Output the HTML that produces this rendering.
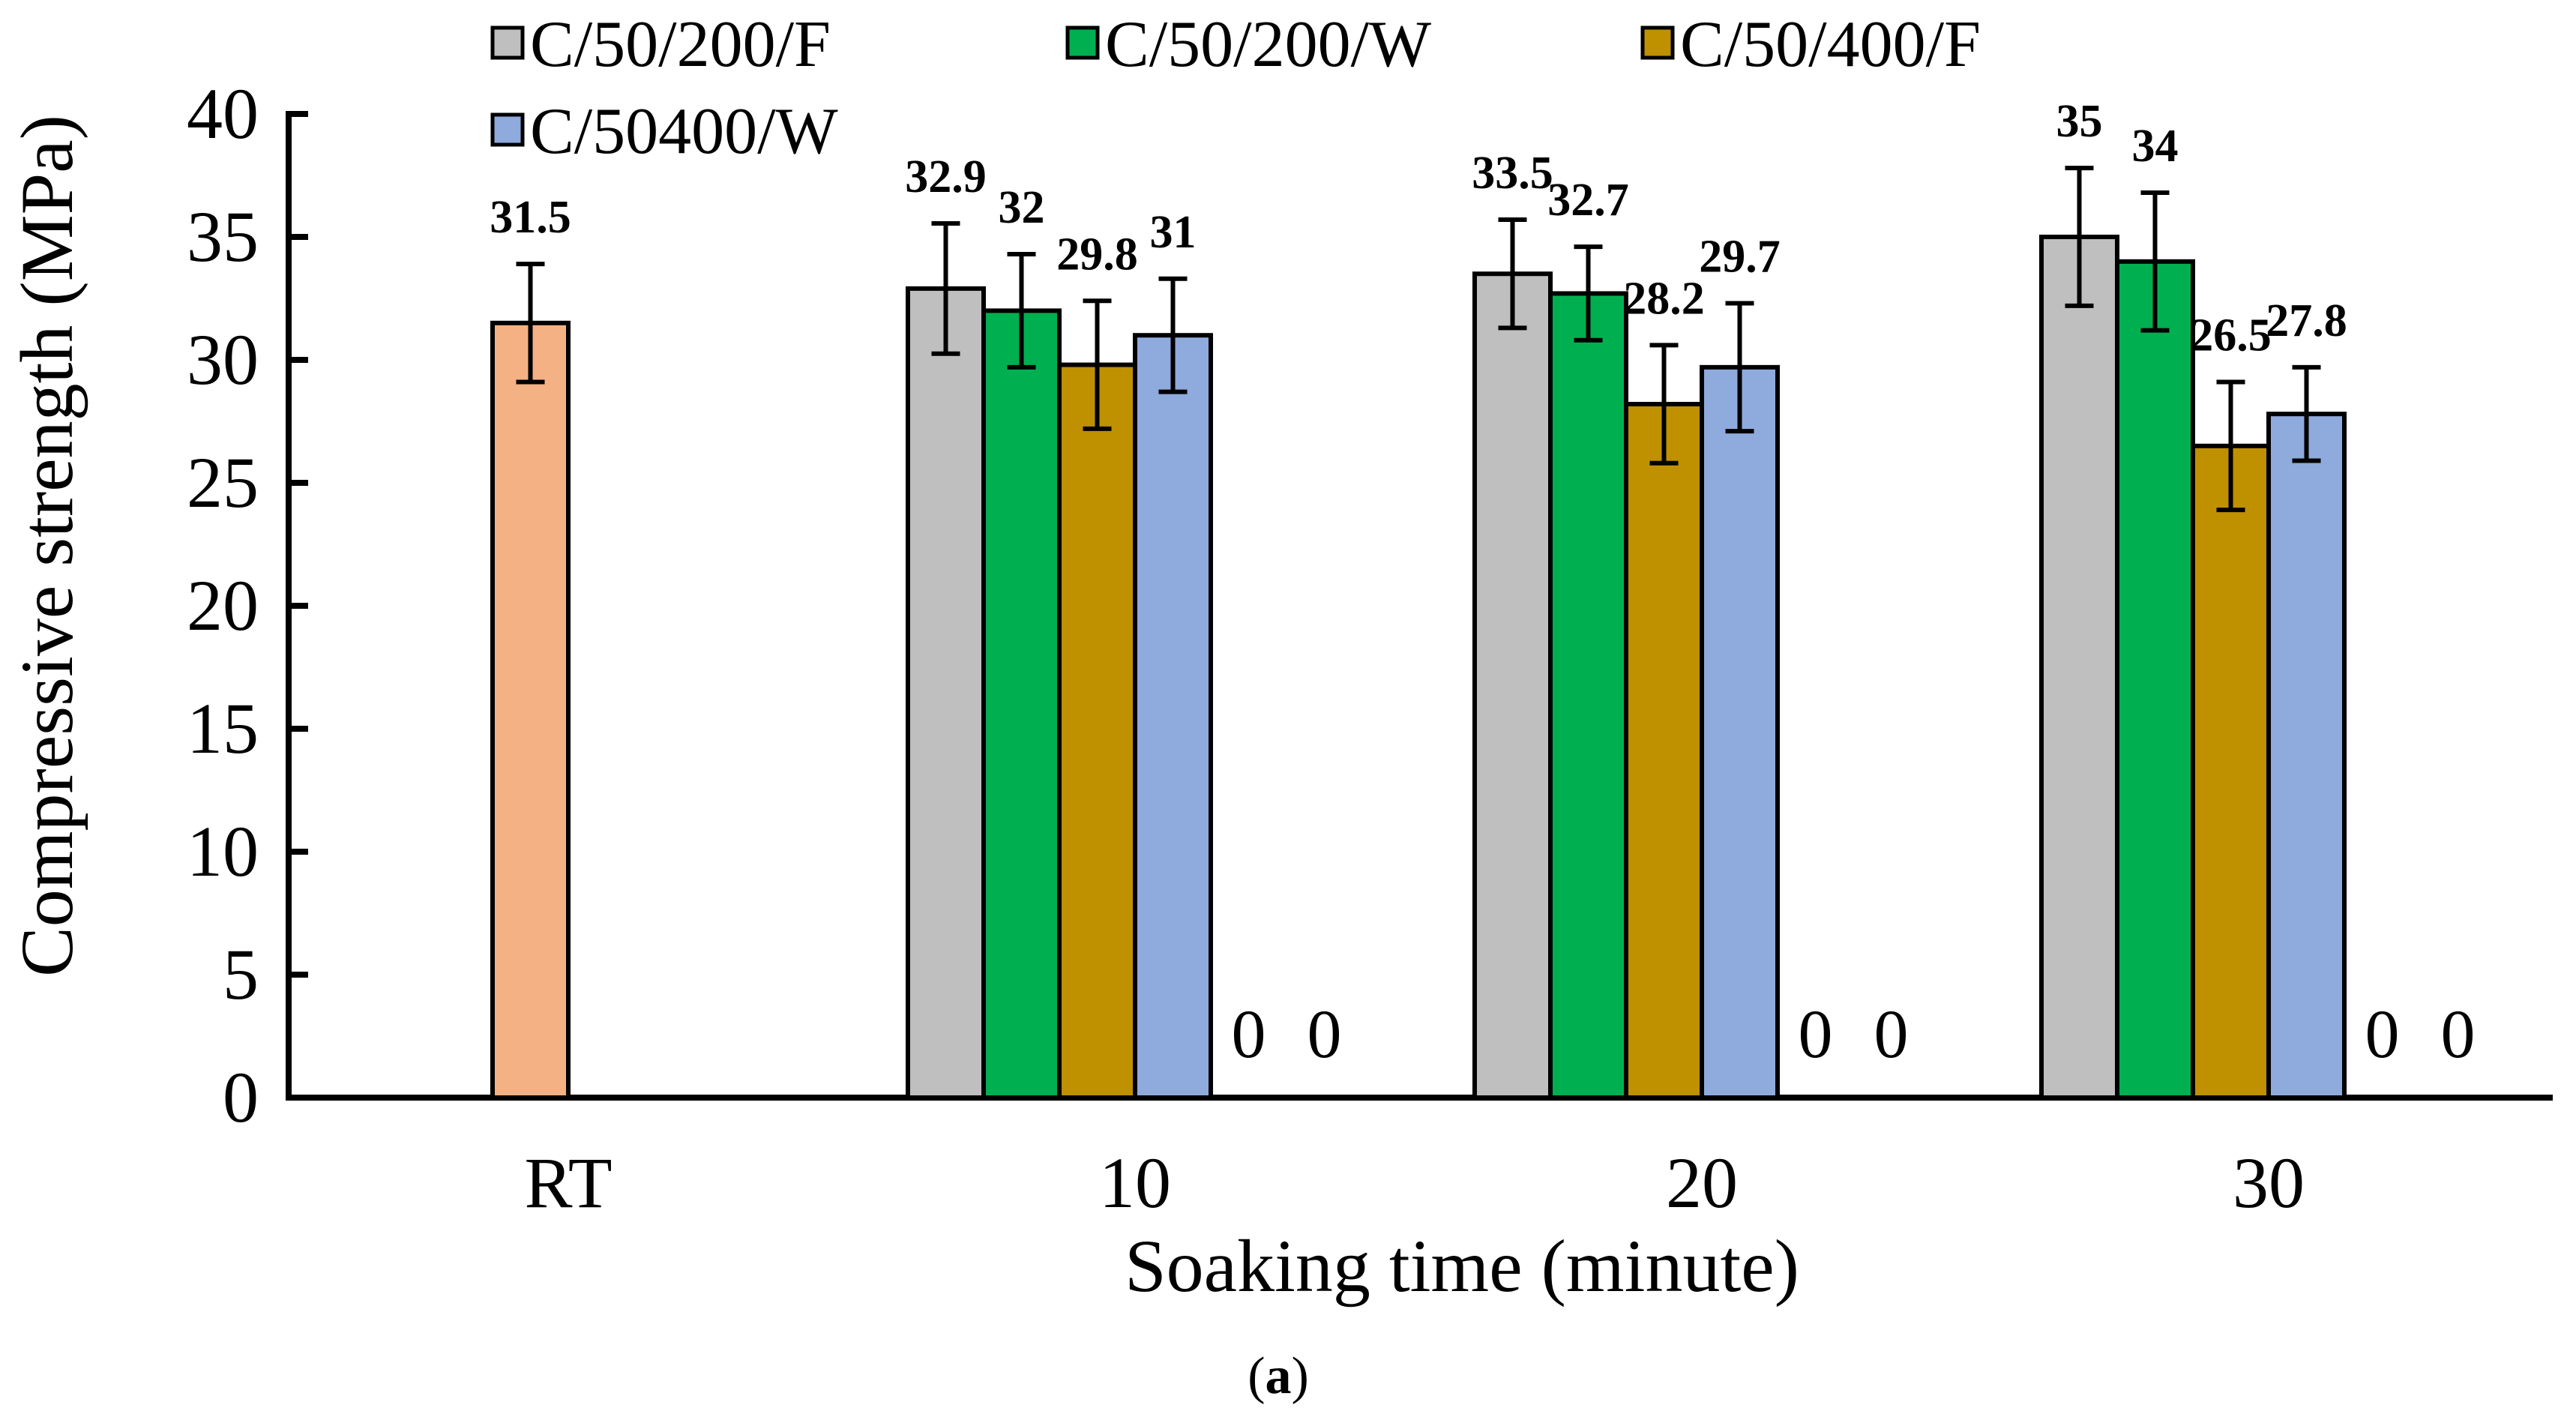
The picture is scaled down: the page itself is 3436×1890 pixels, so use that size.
<!DOCTYPE html>
<html><head><meta charset="utf-8"><style>
html,body{margin:0;padding:0;background:#fff;}
svg{display:block;font-family:"Liberation Serif",serif;}
</style></head><body>
<svg id="chart" width="3436" height="1890" viewBox="0 0 3436 1890" xmlns="http://www.w3.org/2000/svg"></svg>
<script>
const categories = ["RT","10","20","30"];
const seriesNames = ["C/50/200/F","C/50/200/W","C/50/400/F","C/50400/W"];
const rtValue = 31.5;
const rtError = 2.4;
const s200F = [null,32.9,33.5,35];
const s200W = [null,32,32.7,34];
const s400F = [null,29.8,28.2,26.5];
const s400W = [null,31,29.7,27.8];
const e200F = [null,2.65,2.2,2.8];
const e200W = [null,2.3,1.9,2.8];
const e400F = [null,2.6,2.4,2.6];
const e400W = [null,2.3,2.6,1.9];
const yTicks = [0,5,10,15,20,25,30,35,40];

const colors = ["#bfbfbf","#00b050","#bf9000","#8faadc"];
const rtColor = "#f4b183";
const NS = "http://www.w3.org/2000/svg";
const svg = document.getElementById("chart");
const X0 = 385, X1 = 3405, Y0 = 1464, PXU = 32.8;
const groupW = 756, firstCenter = 758, slotW = 101;
function y(v){ return Y0 - v*PXU; }
function gx(i){ return firstCenter + i*groupW; }
function slotX(i,s){ return gx(i) - 3*slotW + s*slotW; }
function mk(tag, attrs, parent){
  const e = document.createElementNS(NS, tag);
  for (const k in attrs) e.setAttribute(k, attrs[k]);
  (parent||svg).appendChild(e);
  return e;
}
function txt(str, attrs){ const t = mk("text", attrs); t.textContent = str; return t; }

// axes
let e = mk("line",{x1:X0,y1:Y0,x2:X1,y2:Y0,stroke:"#000","stroke-width":8});


e = mk("line",{x1:X0,y1:Y0+4,x2:X0,y2:y(40)-4,stroke:"#000","stroke-width":8});


yTicks.forEach(v=>{
  const t = mk("line",{x1:X0,y1:y(v),x2:X0+26,y2:y(v),stroke:"#000","stroke-width":8});
  
  
  const l = txt(String(v),{x:345,y:y(v)+32,"text-anchor":"end","font-size":96});
  
  
});
categories.forEach((c,i)=>{
  const l = txt(c,{x:gx(i),y:1610,"text-anchor":"middle","font-size":96});
  
  
});

function bar(x, v, err, color){
  const r = mk("rect",{x:x,y:y(v),width:slotW,height:Y0-y(v),fill:color,stroke:"#000","stroke-width":6});
  
  
  const cx = x + slotW/2;
  const g = mk("g",{stroke:"#000","stroke-width":6});
  
  
  mk("line",{x1:cx,y1:y(v+err),x2:cx,y2:y(v-err)},g);
  mk("line",{x1:cx-19,y1:y(v+err),x2:cx+19,y2:y(v+err)},g);
  mk("line",{x1:cx-19,y1:y(v-err),x2:cx+19,y2:y(v-err)},g);
  const l = txt(String(v),{x:cx,y:y(v+err)-42,"text-anchor":"middle","font-size":62,"font-weight":"bold"});
  
  
}
bar(slotX(0,2), rtValue, rtError, rtColor);
const sv = [s200F,s200W,s400F,s400W], se = [e200F,e200W,e400F,e400W];
for (let i=1;i<categories.length;i++){
  for (let s=0;s<4;s++) bar(slotX(i,s), sv[s][i], se[s][i], colors[s]);
  for (let s=4;s<6;s++){
    const z = txt("0",{x:slotX(i,s)+slotW/2,y:1410,"text-anchor":"middle","font-size":92});
    
    
  }
}

// legend
const legPos = [[657,59],[1424,59],[2191,59],[657,175]];
seriesNames.forEach((n,i)=>{
  const g = mk("g",{});
  
  
  const [lx,ly] = legPos[i];
  mk("rect",{x:lx,y:ly-22,width:40,height:40,fill:colors[i],stroke:"#000","stroke-width":5},g);
  const t = mk("text",{x:lx+50,y:ly+29,"font-size":88},g);
  t.textContent = n;
});

// titles
let t = txt("Soaking time (minute)",{x:1950,y:1722,"text-anchor":"middle","font-size":100});


t = txt("Compressive strength (MPa)",{x:0,y:0,"text-anchor":"middle","font-size":100,transform:"translate(96,728) rotate(-90)"});


t = txt("(a)",{x:1705,y:1858,"text-anchor":"middle","font-size":70});


t.innerHTML = '(<tspan font-weight="bold">a</tspan>)';
</script>
</body></html>
